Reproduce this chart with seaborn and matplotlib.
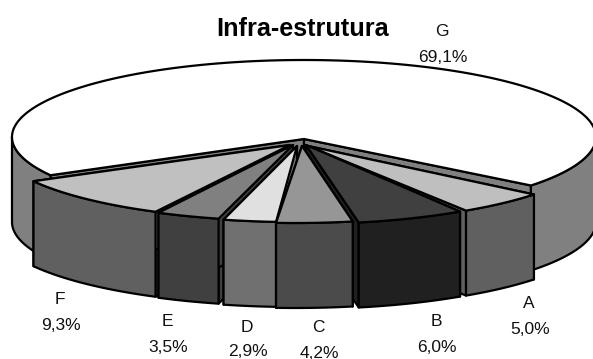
import numpy as np
import matplotlib
matplotlib.use("Agg")
import matplotlib.pyplot as plt
import seaborn as sns

# data
categories = ["A", "B", "C", "D", "E", "F", "G"]
shares = [5.0, 6.0, 4.2, 2.9, 3.5, 9.3, 69.1]

# style
top_colors = ["#bfbfbf", "#404040", "#969696", "#e0e0e0", "#808080", "#c0c0c0", "#ffffff"]
side_colors = ["#606060", "#202020", "#4b4b4b", "#707070", "#404040", "#606060", "#808080"]
rim_shift = [(3, 9), (-3, 10), (-9, 9), (-9, 8), (-14, 7), (-17, 6), (0, 0)]
apex_shift = [(4, 9), (2, 8), (-2, 9), (-7, 9), (-11, 8), (-14, 8), (0, 2)]
label_xy = [(529, 304), (436, 322), (318, 328), (247, 327), (167, 322), (60, 300), (442, 32)]
CX, CY, RX, RY, DEPTH, START = 304, 137, 292, 77, 85, 39.0

sns.set_theme(style="white", font="Liberation Sans")
fig, ax = plt.subplots(figsize=(5.93, 3.59), dpi=100)
fig.subplots_adjust(0, 0, 1, 1)
ax.set_xlim(0, 593)
ax.set_ylim(359, 0)
ax.axis("off")

sweeps = np.array(shares) * 3.6
ends = START + np.cumsum(sweeps)
starts = ends - sweeps
EDGE = dict(edgecolor="black", linewidth=1.6, joinstyle="round")


def rim(i, a0, a1):
    t = np.radians(np.linspace(a0, a1, max(int(abs(a1 - a0)) * 2, 2)))
    return (CX + RX * np.cos(t) + rim_shift[i][0], CY + RY * np.sin(t) + rim_shift[i][1])


def draw_slice(i, z):
    ax_, ay_ = CX + apex_shift[i][0], CY + apex_shift[i][1]
    x, y = rim(i, starts[i], ends[i])
    for k in (0, -1):  # radial walls
        ax.fill([ax_, x[k], x[k], ax_], [ay_, y[k], y[k] + DEPTH, ay_ + DEPTH],
                facecolor=side_colors[i], zorder=z, **EDGE)
    if i == 6:  # visible parts of the outer wall of the large slice
        for a0, a1 in ((starts[i], 180), (360, ends[i])):
            sx, sy = rim(i, a0, a1)
            ax.fill(np.r_[sx, sx[::-1]], np.r_[sy, sy[::-1] + DEPTH],
                    facecolor=side_colors[i], zorder=z, **EDGE)
    else:
        ax.fill(np.r_[x, x[::-1]], np.r_[y, y[::-1] + DEPTH],
                facecolor=side_colors[i], zorder=z, **EDGE)
    ax.fill(np.r_[ax_, x], np.r_[ay_, y], facecolor=top_colors[i], zorder=z + 0.5, **EDGE)


for z, i in enumerate([6, 0, 5, 1, 4, 3, 2]):
    draw_slice(i, z + 1)

for name, val, (lx, ly) in zip(categories, shares, label_xy):
    ax.text(lx, ly, name, ha="center", va="center", fontsize=12.5, color="#111111", zorder=20)
    ax.text(lx + 1, ly + 25, f"{val:.1f}%".replace(".", ","), ha="center", va="center",
            fontsize=12.5, color="#111111", zorder=20)

ax.text(302.5, 29, "Infra-estrutura", ha="center", va="center", fontsize=18.2,
        fontweight="bold", color="black", zorder=20)

fig.savefig("out.png", dpi=100)
